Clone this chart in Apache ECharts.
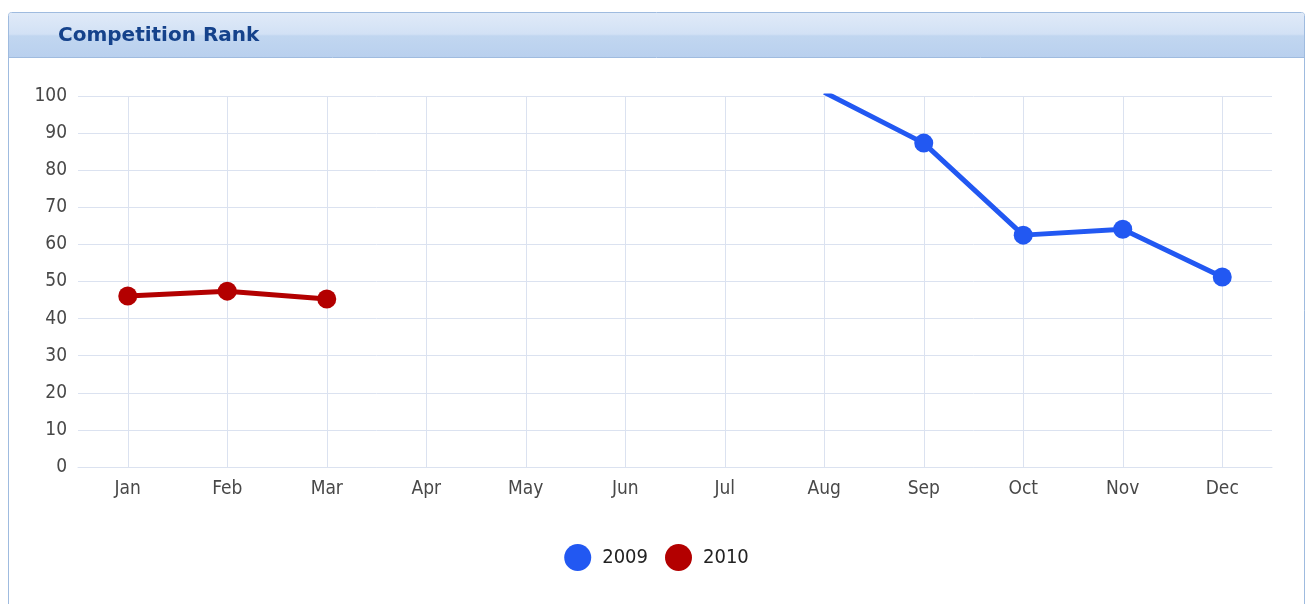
<!DOCTYPE html>
<html>
<head>
<meta charset="utf-8">
<title>Competition Rank</title>
<script src="https://cdn.jsdelivr.net/npm/echarts@6/dist/echarts.min.js"></script>
<style>
  html, body { margin: 0; padding: 0; background: #ffffff; }
  #chart { width: 1313px; height: 604px; }
</style>
</head>
<body>
<div id="chart"></div>
<script>
// Month categories along the x axis
const months = ['Jan', 'Feb', 'Mar', 'Apr', 'May', 'Jun', 'Jul', 'Aug', 'Sep', 'Oct', 'Nov', 'Dec'];

// Competition rank per month; null where there is no reading
const rank2009 = [null, null, null, null, null, null, null, 101, 87.3, 62.5, 64.1, 51.2];
const rank2010 = [46.1, 47.4, 45.3, null, null, null, null, null, null, null, null, null];

// Y axis range and step
const yMin = 0;
const yMax = 100;
const yStep = 10;

const chart = echarts.init(document.getElementById('chart'), null, { renderer: 'canvas' });

const labelFont = '"DejaVu Sans Condensed", "Liberation Sans", sans-serif';
const titleFont = '"DejaVu Sans", sans-serif';
const gridColor = '#dbe2f0';
const labelColor = '#484848';

chart.setOption({
  animation: false,
  backgroundColor: '#ffffff',
  graphic: [
    // panel frame
    {
      type: 'rect',
      z: -10,
      shape: { x: 8.5, y: 12.5, width: 1296, height: 620, r: 3 },
      style: { fill: '#ffffff', stroke: '#9fbbdf', lineWidth: 1 }
    },
    // panel header band
    {
      type: 'rect',
      z: -9,
      shape: { x: 9, y: 13, width: 1295, height: 44, r: [2, 2, 0, 0] },
      style: {
        fill: new echarts.graphic.LinearGradient(0, 0, 0, 1, [
          { offset: 0, color: '#e0eaf8' },
          { offset: 0.48, color: '#d2e1f5' },
          { offset: 0.52, color: '#c1d6f0' },
          { offset: 1, color: '#b9d0ee' }
        ])
      }
    },
    // header bottom rule
    {
      type: 'line',
      z: -8,
      shape: { x1: 9, y1: 57.5, x2: 1304, y2: 57.5 },
      style: { stroke: '#9fbbdf', lineWidth: 1 }
    }
  ],
  title: {
    text: 'Competition Rank',
    left: 53,
    top: 21,
    textStyle: {
      fontFamily: titleFont,
      fontWeight: 'bold',
      fontSize: 20,
      color: '#15428b'
    }
  },
  legend: {
    data: ['2009', '2010'],
    top: 539,
    left: 'center',
    icon: 'circle',
    itemWidth: 27,
    itemHeight: 27,
    itemGap: 17,
    textStyle: {
      fontFamily: labelFont,
      fontSize: 20,
      color: '#222222',
      padding: [0, 0, 0, 6]
    }
  },
  grid: {
    left: 78,
    right: 41,
    top: 96,
    bottom: 137,
    containLabel: false
  },
  xAxis: {
    type: 'category',
    data: months,
    boundaryGap: true,
    axisLine: { show: true, lineStyle: { color: gridColor, width: 1 } },
    axisTick: { show: false },
    axisLabel: {
      fontFamily: labelFont,
      fontSize: 19,
      color: labelColor,
      margin: 13
    },
    splitLine: {
      show: true,
      alignWithLabel: true,
      lineStyle: { color: gridColor, width: 1 }
    }
  },
  yAxis: {
    type: 'value',
    min: yMin,
    max: yMax,
    interval: yStep,
    axisLine: { show: false },
    axisTick: { show: false },
    axisLabel: {
      fontFamily: labelFont,
      fontSize: 19,
      color: labelColor,
      margin: 11,
      padding: [3, 0, 0, 0]
    },
    splitLine: { show: true, lineStyle: { color: gridColor, width: 1 } }
  },
  series: [
    {
      name: '2009',
      type: 'line',
      data: rank2009,
      connectNulls: false,
      clip: true,
      symbol: 'circle',
      symbolSize: 19,
      showAllSymbol: true,
      lineStyle: { color: '#2258f2', width: 5 },
      itemStyle: { color: '#2258f2' }
    },
    {
      name: '2010',
      type: 'line',
      data: rank2010,
      connectNulls: false,
      clip: true,
      symbol: 'circle',
      symbolSize: 19,
      showAllSymbol: true,
      lineStyle: { color: '#b30000', width: 5 },
      itemStyle: { color: '#b30000' }
    }
  ]
});
</script>
</body>
</html>
